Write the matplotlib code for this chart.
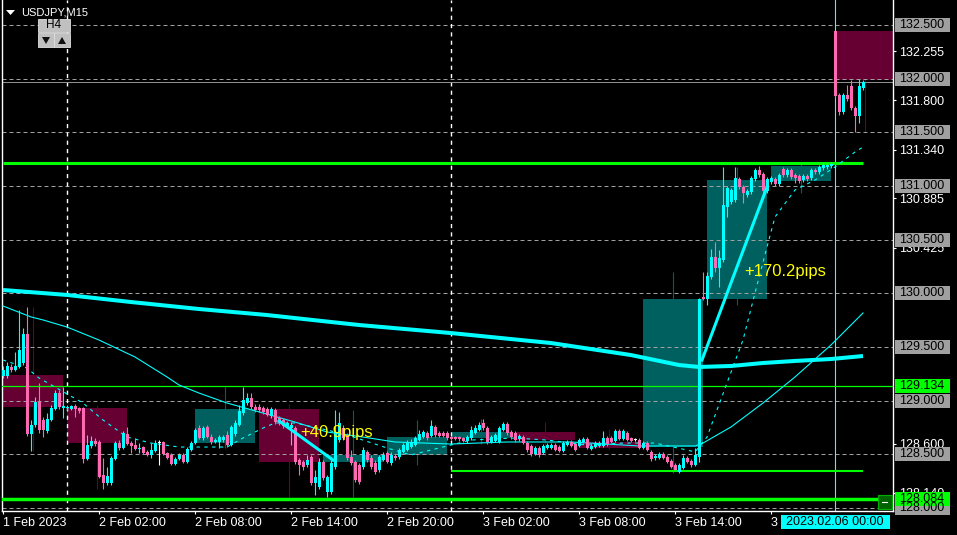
import matplotlib
matplotlib.use('Agg')
import matplotlib.pyplot as plt
import matplotlib.transforms as mtransforms
from matplotlib.patches import Rectangle, Polygon
import numpy as np

plt.rcParams['font.family'] = ['Liberation Sans', 'DejaVu Sans']

# USDJPY M15 bars, bar 0 = 1 Feb 20:00, bar 208 = 6 Feb 00:00
opens = [
    129.230, 129.230, 129.314, 129.286, 129.314, 129.351, 129.621, 128.689,
    128.773, 128.988, 128.820, 128.717, 128.820, 128.922, 129.071, 128.932,
    128.932, 128.922, 128.950, 128.932, 128.932, 128.457, 128.578, 128.624,
    128.615, 128.307, 128.233, 128.233, 128.457, 128.605, 128.559, 128.689,
    128.605, 128.587, 128.550, 128.568, 128.522, 128.494, 128.531, 128.605,
    128.615, 128.512, 128.494, 128.410, 128.457, 128.494, 128.429, 128.540,
    128.605, 128.745, 128.652, 128.755, 128.661, 128.615, 128.615, 128.633,
    128.680, 128.587, 128.689, 128.773, 128.885, 128.978, 129.025, 128.941,
    128.941, 128.932, 128.922, 128.857, 128.913, 128.839, 128.820, 128.755,
    128.745, 128.745, 128.447, 128.429, 128.401, 128.475, 128.233, 128.196,
    128.429, 128.149, 128.149, 128.382, 128.633, 128.745, 128.680, 128.475,
    128.429, 128.401, 128.382, 128.522, 128.466, 128.419, 128.354, 128.447,
    128.512, 128.419, 128.485, 128.475, 128.522, 128.540, 128.568, 128.587,
    128.633, 128.661, 128.699, 128.671, 128.755, 128.699, 128.699, 128.699,
    128.661, 128.661, 128.661, 128.652, 128.624, 128.652, 128.699, 128.727,
    128.792, 128.745, 128.615, 128.624, 128.615, 128.727, 128.783, 128.708,
    128.699, 128.643, 128.661, 128.605, 128.578, 128.503, 128.559, 128.512,
    128.559, 128.559, 128.587, 128.568, 128.531, 128.587, 128.615, 128.596,
    128.578, 128.615, 128.643, 128.550, 128.568, 128.578, 128.578, 128.652,
    128.652, 128.624, 128.717, 128.643, 128.699, 128.652, 128.633, 128.633,
    128.559, 128.605, 128.522, 128.466, 128.466, 128.503, 128.475, 128.438,
    128.401, 128.335, 128.373, 128.466, 128.438, 128.401, 128.475, 129.966,
    129.947, 130.152, 130.338, 130.236, 130.310, 130.804, 130.851, 130.869,
    131.065, 130.990, 130.916, 130.944, 131.065, 131.149, 131.112, 130.953,
    131.037, 131.065, 131.018, 131.158, 131.102, 131.149, 131.102, 131.093,
    131.056, 131.093, 131.074, 131.149, 131.130, 131.168, 131.177, 131.186,
    132.444, 131.848, 131.690, 131.848, 131.932, 131.727, 131.652, 131.913,
]
closes = [
    129.286, 129.323, 129.286, 129.323, 129.472, 129.621, 128.689, 128.773,
    128.988, 128.727, 128.727, 128.829, 128.932, 129.071, 128.941, 128.950,
    128.941, 128.950, 128.922, 128.904, 128.457, 128.587, 128.624, 128.596,
    128.289, 128.233, 128.298, 128.466, 128.605, 128.559, 128.699, 128.596,
    128.578, 128.550, 128.559, 128.512, 128.494, 128.540, 128.605, 128.605,
    128.503, 128.466, 128.410, 128.457, 128.494, 128.429, 128.550, 128.605,
    128.727, 128.652, 128.745, 128.661, 128.615, 128.633, 128.661, 128.661,
    128.587, 128.755, 128.792, 128.904, 129.006, 129.025, 128.941, 128.913,
    128.913, 128.894, 128.866, 128.922, 128.801, 128.792, 128.764, 128.792,
    128.773, 128.429, 128.401, 128.382, 128.447, 128.233, 128.289, 128.429,
    128.279, 128.289, 128.419, 128.708, 128.792, 128.652, 128.466, 128.419,
    128.261, 128.242, 128.540, 128.447, 128.382, 128.335, 128.475, 128.494,
    128.429, 128.494, 128.466, 128.540, 128.587, 128.605, 128.615, 128.652,
    128.689, 128.708, 128.652, 128.764, 128.680, 128.671, 128.671, 128.652,
    128.643, 128.643, 128.643, 128.624, 128.661, 128.727, 128.745, 128.773,
    128.745, 128.615, 128.661, 128.680, 128.745, 128.783, 128.699, 128.661,
    128.633, 128.671, 128.605, 128.540, 128.503, 128.559, 128.494, 128.578,
    128.587, 128.587, 128.540, 128.531, 128.605, 128.615, 128.578, 128.540,
    128.633, 128.643, 128.559, 128.578, 128.605, 128.605, 128.652, 128.596,
    128.615, 128.717, 128.643, 128.717, 128.633, 128.624, 128.633, 128.559,
    128.605, 128.540, 128.457, 128.485, 128.503, 128.466, 128.429, 128.382,
    128.354, 128.401, 128.466, 128.429, 128.401, 128.494, 129.947, 129.947,
    130.161, 130.338, 130.236, 130.329, 130.823, 130.981, 130.962, 131.074,
    130.990, 130.935, 130.953, 131.074, 131.149, 131.102, 130.953, 131.065,
    131.074, 131.018, 131.102, 131.102, 131.149, 131.084, 131.074, 131.046,
    131.093, 131.065, 131.149, 131.130, 131.177, 131.195, 131.195, 131.205,
    131.839, 131.690, 131.848, 131.811, 131.727, 131.652, 131.932, 131.969,
]
highs = [
    129.323, 129.360, 129.342, 129.453, 129.845, 129.677, 129.873, 128.820,
    129.034, 129.165, 128.848, 128.885, 128.960, 129.099, 129.099, 129.127,
    128.960, 128.960, 128.969, 128.941, 128.941, 128.680, 128.671, 128.652,
    128.633, 128.466, 128.382, 128.485, 128.624, 128.633, 128.717, 128.755,
    128.624, 128.652, 128.605, 128.578, 128.540, 128.605, 128.633, 128.633,
    128.624, 128.522, 128.512, 128.475, 128.512, 128.512, 128.568, 128.624,
    128.745, 128.773, 128.764, 128.773, 128.689, 128.652, 128.680, 128.680,
    128.717, 128.773, 128.820, 128.960, 129.127, 129.071, 129.071, 128.969,
    128.969, 128.950, 128.941, 128.941, 128.932, 128.857, 128.839, 128.811,
    128.801, 128.764, 128.466, 128.447, 128.494, 128.494, 128.354, 128.466,
    128.447, 128.307, 128.447, 128.913, 128.894, 128.773, 128.699, 128.540,
    128.447, 128.419, 128.568, 128.540, 128.494, 128.447, 128.494, 128.522,
    128.531, 128.522, 128.503, 128.559, 128.605, 128.633, 128.643, 128.671,
    128.727, 128.727, 128.717, 128.820, 128.773, 128.717, 128.717, 128.717,
    128.671, 128.671, 128.671, 128.661, 128.680, 128.764, 128.773, 128.801,
    128.829, 128.764, 128.680, 128.699, 128.764, 128.801, 128.801, 128.727,
    128.717, 128.689, 128.680, 128.624, 128.596, 128.578, 128.578, 128.596,
    128.605, 128.605, 128.605, 128.587, 128.624, 128.633, 128.633, 128.605,
    128.652, 128.661, 128.661, 128.596, 128.624, 128.624, 128.717, 128.671,
    128.671, 128.736, 128.736, 128.736, 128.717, 128.661, 128.652, 128.652,
    128.624, 128.624, 128.540, 128.503, 128.522, 128.522, 128.494, 128.457,
    128.419, 128.419, 128.494, 128.485, 128.457, 128.559, 129.956, 130.199,
    130.199, 130.413, 130.478, 130.404, 131.177, 131.000, 130.981, 131.177,
    131.084, 131.009, 130.972, 131.093, 131.168, 131.186, 131.130, 131.084,
    131.093, 131.084, 131.121, 131.177, 131.168, 131.168, 131.121, 131.112,
    131.112, 131.112, 131.168, 131.168, 131.195, 131.214, 131.214, 131.223,
    132.444, 131.866, 131.866, 131.941, 131.988, 131.745, 131.997, 131.988,
]
lows = [
    129.211, 129.211, 129.267, 129.276, 129.304, 129.332, 128.671, 128.531,
    128.755, 128.699, 128.661, 128.699, 128.811, 128.913, 128.922, 128.839,
    128.913, 128.913, 128.848, 128.885, 128.419, 128.447, 128.559, 128.578,
    128.279, 128.177, 128.214, 128.214, 128.447, 128.540, 128.550, 128.587,
    128.512, 128.540, 128.512, 128.503, 128.485, 128.466, 128.522, 128.401,
    128.494, 128.457, 128.401, 128.401, 128.447, 128.419, 128.419, 128.531,
    128.596, 128.643, 128.633, 128.652, 128.596, 128.605, 128.559, 128.615,
    128.568, 128.578, 128.671, 128.764, 128.866, 128.960, 128.922, 128.894,
    128.894, 128.876, 128.857, 128.839, 128.783, 128.773, 128.745, 128.745,
    128.587, 128.410, 128.307, 128.354, 128.382, 128.214, 128.121, 128.177,
    128.261, 128.102, 128.131, 128.363, 128.615, 128.633, 128.447, 128.401,
    128.242, 128.224, 128.363, 128.429, 128.363, 128.317, 128.335, 128.438,
    128.419, 128.401, 128.447, 128.457, 128.512, 128.531, 128.559, 128.578,
    128.624, 128.652, 128.633, 128.661, 128.661, 128.661, 128.661, 128.633,
    128.633, 128.633, 128.624, 128.615, 128.605, 128.633, 128.689, 128.717,
    128.727, 128.596, 128.605, 128.615, 128.605, 128.717, 128.680, 128.643,
    128.615, 128.624, 128.596, 128.522, 128.485, 128.494, 128.475, 128.503,
    128.550, 128.550, 128.531, 128.522, 128.522, 128.578, 128.568, 128.531,
    128.568, 128.605, 128.550, 128.540, 128.559, 128.568, 128.568, 128.578,
    128.605, 128.615, 128.633, 128.633, 128.624, 128.615, 128.624, 128.550,
    128.550, 128.531, 128.438, 128.447, 128.457, 128.457, 128.419, 128.373,
    128.345, 128.326, 128.363, 128.419, 128.382, 128.391, 128.429, 129.938,
    129.891, 130.133, 130.199, 130.059, 130.292, 130.711, 130.832, 130.851,
    130.972, 130.841, 130.897, 130.925, 131.046, 131.084, 130.935, 130.935,
    131.018, 131.000, 131.000, 131.084, 131.084, 131.065, 131.028, 131.028,
    131.037, 131.046, 131.056, 131.112, 131.112, 131.149, 131.158, 131.168,
    131.820, 131.662, 131.671, 131.792, 131.708, 131.503, 131.587, 131.894,
]

# H4 candles overlaid as boxes (first M15 bar of each H4 bar)
h4_first = [0, 16, 32, 48, 64, 80, 96, 112, 128, 144, 160, 176, 192, 208]
h4_open = [129.239, 128.932, 128.605, 128.605, 128.922, 128.429, 128.494,
           128.652, 128.708, 128.615, 128.568, 129.947, 131.046, 132.444]
h4_close = [128.941, 128.605, 128.605, 128.922, 128.429, 128.494, 128.661,
            128.708, 128.633, 128.559, 129.947, 131.056, 131.186, 131.988]
h4_high = [129.873, 128.960, 128.633, 129.127, 128.969, 128.913, 128.820,
           128.829, 128.801, 128.736, 130.199, 131.177, 131.223, 132.444]
h4_low = [128.531, 128.177, 128.401, 128.559, 128.102, 128.102, 128.401,
          128.596, 128.485, 128.550, 128.326, 129.891, 130.935, 131.503]

# moving averages (bar index, price)
ma_slow_x = [0, 16, 32, 49, 66, 82, 89, 112, 137, 157, 169, 174, 182, 190, 198, 207, 215]
ma_slow = [130.031, 129.985, 129.919, 129.854, 129.798, 129.733, 129.705, 129.630,
           129.537, 129.425, 129.332, 129.314, 129.323, 129.351, 129.370, 129.388, 129.416]
ma_mid_x = [0, 7, 10, 16, 24, 33, 41, 44, 49, 56, 65, 73, 81, 90, 98, 112, 126,
            142, 159, 173, 175, 182, 190, 198, 207, 215]
ma_mid = [129.882, 129.780, 129.752, 129.686, 129.565, 129.407, 129.221, 129.146,
          129.071, 128.978, 128.885, 128.801, 128.708, 128.661, 128.615, 128.596,
          128.615, 128.615, 128.578, 128.578, 128.605, 128.755, 128.978, 129.221,
          129.519, 129.817]
ma_fast_x = [0, 6, 9, 13, 20, 25, 31, 37, 44, 49, 56, 60, 65, 68, 73, 81, 86, 90,
             96, 102, 109, 117, 128, 136, 146, 155, 163, 171, 173, 176, 181, 185,
             188, 191, 193, 198, 203, 208, 213, 215]
ma_fast = [129.379, 129.304, 129.211, 129.127, 128.978, 128.820, 128.661, 128.605,
           128.568, 128.568, 128.568, 128.652, 128.745, 128.792, 128.792, 128.727,
           128.680, 128.633, 128.559, 128.494, 128.559, 128.633, 128.652, 128.633,
           128.587, 128.605, 128.605, 128.540, 128.522, 128.661, 129.165, 129.565,
           130.003, 130.432, 130.711, 130.963, 131.056, 131.177, 131.317, 131.363]

# trades
trade1_x = [69, 82.5]
trade1_y = [128.811, 128.447]
trade2_x = [174.75, 191]
trade2_y = [129.379, 130.990]

grid_levels = [132.5, 132.0, 131.5, 131.0, 130.5, 130.0, 129.5, 129.0, 128.5, 128.0]
price_ticks = [132.255, 131.800, 131.340, 130.885, 130.425, 128.600, 128.140]
time_ticks = [0, 24, 48, 72, 96, 120, 144, 168, 192]
time_labels = ['1 Feb 2023', '2 Feb 02:00', '2 Feb 08:00', '2 Feb 14:00', '2 Feb 20:00',
               '3 Feb 02:00', '3 Feb 08:00', '3 Feb 14:00', '3 Feb 20:00']
day_sep = [16, 112]

CYAN = '#00ffff'
PINK = '#ff69b4'
MAROON = '#660033'
TEAL = '#005f5f'
GREEN = '#00ff00'

W, H = 957, 535
fig = plt.figure(figsize=(W / 100, H / 100), dpi=100, facecolor='black')
ax = fig.add_axes([2 / W, 1 - 511 / H, 891 / W, 511 / H])
ax.set_facecolor('black')
ax.set_xlim(-0.25, 222.5)
ax.set_ylim(127.972, 132.733)

over = fig.add_axes([0, 0, 1, 1], zorder=10)
over.set_xlim(0, W)
over.set_ylim(H, 0)
over.axis('off')
px_price = mtransforms.blended_transform_factory(over.transData, ax.transData)
bar_px = mtransforms.blended_transform_factory(ax.transData, over.transData)

# H4 boxes
for s, o, c, hi, lo in zip(h4_first, h4_open, h4_close, h4_high, h4_low):
    if c == o:
        continue
    col = TEAL if c > o else MAROON
    ax.vlines(s + 7.5, lo, hi, color=col, lw=0.8, zorder=1)
    ax.add_patch(Rectangle((s, min(o, c)), 15, abs(c - o), fc=col, ec='none', zorder=1))

# grid and separators
for lv in grid_levels:
    ax.axhline(lv, color='#a0a0a0', lw=0.72, ls=(0, (4, 3)), zorder=2)
for d in day_sep:
    ax.axvline(d, color='white', lw=1.0, ls=(0, (3, 3)), zorder=2)
ax.axhline(closes[-1], color='#909090', lw=0.72, zorder=2)
ax.axvline(208, color='#66e0ff', lw=0.8, zorder=2)

# green levels
ax.hlines(131.214, 0, 215, color=GREEN, lw=2.2, zorder=3)
ax.axhline(129.134, color=GREEN, lw=0.9, zorder=3)
ax.hlines(128.345, 112, 215, color=GREEN, lw=1.5, zorder=3)
ax.axhline(128.084, color=GREEN, lw=2.5, zorder=3)

# moving averages
ax.plot(ma_slow_x, ma_slow, color=CYAN, lw=2.9, zorder=3, solid_capstyle='butt')
ax.plot(ma_mid_x, ma_mid, color=CYAN, lw=0.8, zorder=3)
ax.plot(ma_fast_x, ma_fast, color=CYAN, lw=0.8, ls=(0, (3, 4)), zorder=3)

# candles
o = np.array(opens)
c = np.array(closes)
idx = np.arange(len(o))
cols = np.where(c > o, CYAN, np.where(c < o, PINK, 'white'))
ax.vlines(idx, lows, highs, colors=cols, lw=0.8, zorder=4)
body = np.maximum(np.abs(c - o), 0.009)
ax.bar(idx, body, bottom=np.minimum(o, c), width=0.75, color=cols, lw=0, zorder=4)

# trade lines and results
ax.plot(trade1_x, trade1_y, color=CYAN, lw=2.2, zorder=5)
ax.plot(trade2_x, trade2_y, color=CYAN, lw=2.2, zorder=5)
ax.text(74.25, 128.708, '+40.9pips', color='yellow', fontsize=12, va='center', zorder=6)
ax.text(185.25, 130.199, '+170.2pips', color='yellow', fontsize=12, va='center', zorder=6)

# axes look
for s in ['left', 'bottom', 'right']:
    ax.spines[s].set_color('white')
    ax.spines[s].set_linewidth(1)
ax.spines['top'].set_visible(False)
ax.yaxis.tick_right()
ax.set_yticks(price_ticks, [f'{v:.3f}' for v in price_ticks])
ax.set_xticks(time_ticks, time_labels)
ax.tick_params(colors='white', labelsize=9, length=2.2, width=0.8, pad=2)
for t in ax.get_xticklabels():
    t.set_ha('left')

# price labels on the right scale
def price_box(price, fc):
    over.add_patch(Rectangle((895, price - 0.0652), 55, 0.1304, transform=px_price,
                             fc=fc, ec='none', clip_on=False))
    over.text(899, price, f'{price:.3f}', transform=px_price, color='black', fontsize=9,
              va='center', ha='left', clip_on=False)

for lv in grid_levels:
    price_box(lv, '#a0a0a0')
price_box(129.134, GREEN)
price_box(128.084, GREEN)

# time label of the vertical line
over.add_patch(Rectangle((208 - 13.6, 515), 27.25, 14, transform=bar_px, fc=CYAN, ec='none', clip_on=False))
over.text(208, 522, '2023.02.06 00:00', transform=bar_px, color='black', fontsize=9,
          ha='center', va='center', clip_on=False)

# top-left symbol and H4 buttons
over.add_patch(Polygon([[6, 10], [15, 10], [10.5, 15]], fc='white', ec='none'))
over.text(21, 12.5, 'USDJPY,M15', color='white', fontsize=8, va='center')
over.add_patch(Rectangle((38, 19), 32, 13, fc='#c0c0c0', ec='#e0e0e0', lw=0.6))
over.text(54, 25.5, 'H4', color='black', fontsize=8.5, ha='center', va='center')
over.add_patch(Rectangle((38, 33), 16, 14, fc='#c0c0c0', ec='#e0e0e0', lw=0.6))
over.add_patch(Rectangle((54, 33), 16, 14, fc='#c0c0c0', ec='#e0e0e0', lw=0.6))
over.add_patch(Polygon([[42, 37], [50, 37], [46, 44]], fc='#101010', ec='none'))
over.add_patch(Polygon([[58, 44], [66, 44], [62, 37]], fc='#101010', ec='none'))

# small green button at the bottom right
over.add_patch(Rectangle((878, 495), 14, 14, fc='#006400', ec='#00b000', lw=0.8))
over.plot([882, 887], [502, 502], color='white', lw=0.8)

fig.savefig('out.png', dpi=100, facecolor='black')
